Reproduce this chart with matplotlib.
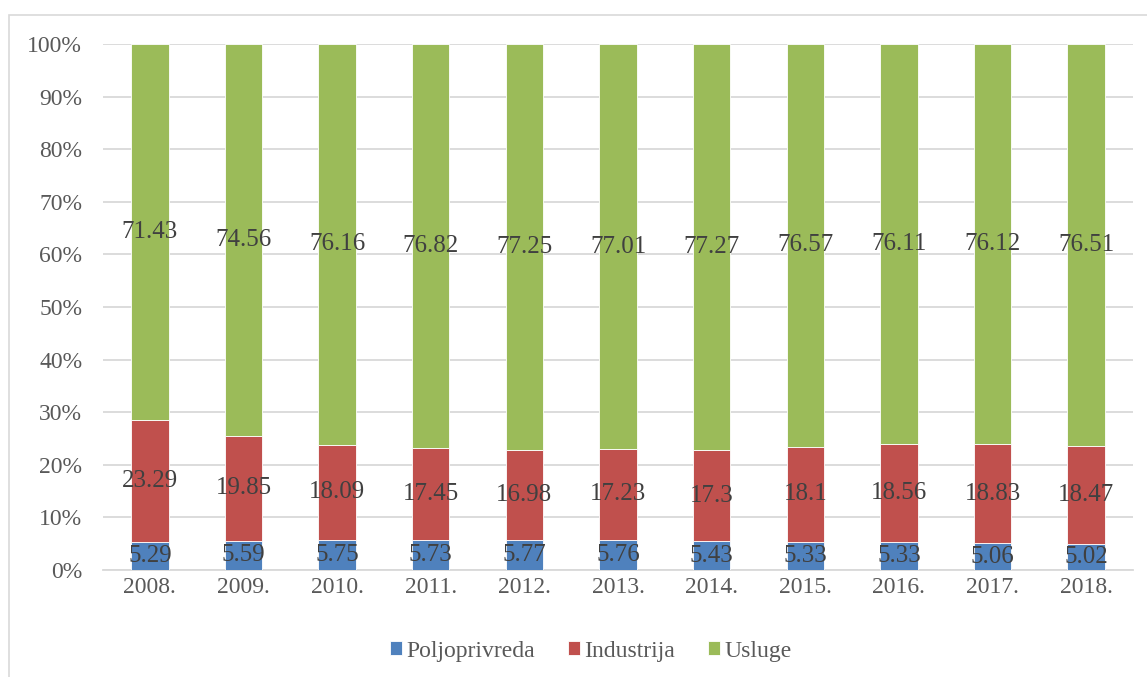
import matplotlib.pyplot as plt
import numpy as np
from matplotlib.patches import Rectangle

years = ['2008.', '2009.', '2010.', '2011.', '2012.', '2013.',
         '2014.', '2015.', '2016.', '2017.', '2018.']
poljoprivreda = [5.29, 5.59, 5.75, 5.73, 5.77, 5.76, 5.43, 5.33, 5.33, 5.06, 5.02]
industrija = [23.29, 19.85, 18.09, 17.45, 16.98, 17.23, 17.3, 18.1, 18.56, 18.83, 18.47]
usluge = [71.43, 74.56, 76.16, 76.82, 77.25, 77.01, 77.27, 76.57, 76.11, 76.12, 76.51]

series = [('Poljoprivreda', poljoprivreda, '#4F81BD'),
          ('Industrija', industrija, '#C0504D'),
          ('Usluge', usluge, '#9BBB59')]

plt.rcParams['font.family'] = ['Liberation Serif', 'DejaVu Serif']

fig = plt.figure(figsize=(11.47, 6.77), dpi=100)
ax = fig.add_axes([103 / 1147, 1 - 570 / 677, 1030 / 1147, 526 / 677])

# outer chart border
fig.patches.append(Rectangle((9 / 1147, -0.05), 1.1, 1 - 15 / 677 + 0.05,
                             transform=fig.transFigure, fill=False,
                             edgecolor='#D9D9D9', linewidth=1.2))

x = np.arange(len(years))
totals = np.sum([poljoprivreda, industrija, usluge], axis=0)
bottom = np.zeros(len(years))
for name, vals, color in series:
    share = np.array(vals) / totals * 100
    bars = ax.bar(x, share, 0.4, bottom=bottom, color=color, label=name,
                  edgecolor='white', linewidth=0.6, zorder=3)
    ax.bar_label(bars, labels=[f'{v:g}' for v in vals], label_type='center',
                 fontsize=18, color='#404040', zorder=4)
    bottom += share

ax.set_xlim(-0.5, len(years) - 0.5)
ax.set_ylim(0, 100)
ax.set_yticks(np.arange(0, 101, 10))
ax.set_yticklabels([f'{v}%' for v in range(0, 101, 10)])
ax.set_xticks(x)
ax.set_xticklabels(years)
ax.tick_params(axis='both', length=0, labelsize=17, colors='#595959')
ax.tick_params(axis='x', pad=5)
ax.tick_params(axis='y', pad=15)
ax.grid(axis='y', color='#D9D9D9', linewidth=1.3, zorder=0)
for s in ['top', 'right', 'left']:
    ax.spines[s].set_visible(False)
ax.spines['bottom'].set_color('#D9D9D9')
ax.spines['bottom'].set_linewidth(1.3)

fig.legend(loc='center', bbox_to_anchor=(591 / 1147, 1 - 651 / 677), ncol=3,
           frameon=False, fontsize=17, labelcolor='#595959',
           handlelength=0.5, handleheight=0.5, handletextpad=0.2,
           columnspacing=1.4)

fig.savefig('out.png', dpi=100)
